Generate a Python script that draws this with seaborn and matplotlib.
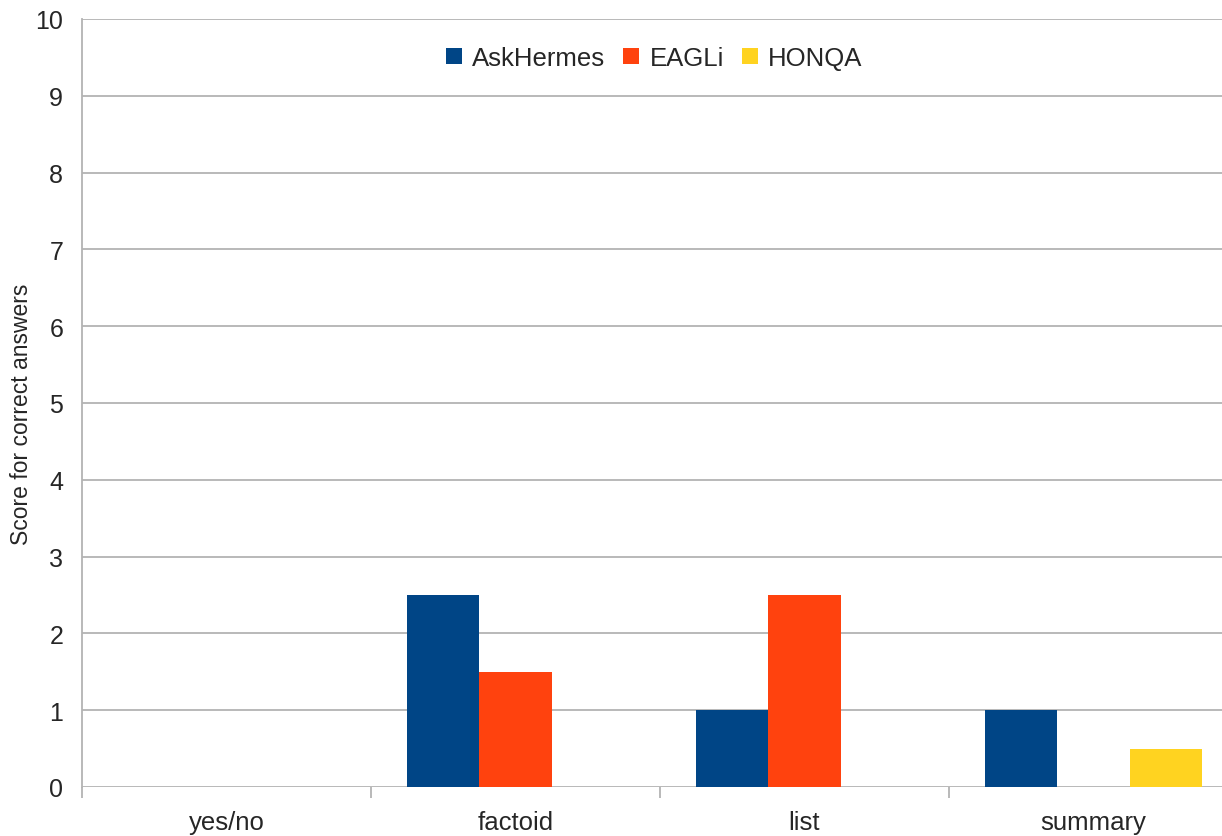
import numpy as np
import pandas as pd
import seaborn as sns
from matplotlib import pyplot as plt
from matplotlib.ticker import FixedLocator

categories = ['yes/no', 'factoid', 'list', 'summary']
systems = ['AskHermes', 'EAGLi', 'HONQA']
askhermes = [0, 2.5, 1, 1]
eagli = [0, 1.5, 2.5, 0]
honqa = [0, 0, 0, 0.5]
colors = ['#004586', '#ff420e', '#ffd320']
y_ticks = list(range(0, 11))


def create_dataframe():
    rows = []
    for system, values in zip(systems, [askhermes, eagli, honqa]):
        for cat, v in zip(categories, values):
            rows.append({'category': cat, 'system': system, 'score': v})
    return pd.DataFrame(rows)


sns.set_style('white')
plt.rcParams['font.family'] = ['Liberation Sans', 'DejaVu Sans']

df = create_dataframe()
fig = plt.figure(figsize=(12.22, 8.37), dpi=100)
ax = fig.add_axes([82 / 1222, 49 / 837, 1140 / 1222, 768 / 837])

sns.barplot(data=df, x='category', y='score', hue='system', order=categories,
            hue_order=systems, palette=colors, width=0.75, linewidth=0,
            saturation=1, ax=ax, zorder=3)

grid_color = '#b3b3b3'
ax.set_ylim(0, 10)
ax.set_xlim(-0.5, 3.445)
ax.set_yticks(y_ticks)
ax.yaxis.grid(True, color=grid_color, linewidth=1.3, zorder=0)
ax.tick_params(axis='y', length=7, width=1.3, color=grid_color, labelsize=18, pad=6.5)
ax.tick_params(axis='x', which='major', length=0, labelsize=18.5, pad=16.5)
ax.xaxis.set_minor_locator(FixedLocator([-0.5, 0.5, 1.5, 2.5]))
ax.tick_params(axis='x', which='minor', length=8, width=1.3, color=grid_color, bottom=True)
for side in ['top', 'right', 'bottom']:
    ax.spines[side].set_visible(False)
ax.spines['left'].set_color(grid_color)
ax.spines['left'].set_linewidth(1.3)
ax.set_xlabel('')
ax.set_ylabel('Score for correct answers', fontsize=16.5)
ax.yaxis.set_label_coords(-0.043, 0.486)

leg = ax.legend(loc='upper center', bbox_to_anchor=(0.502, 0.995), ncol=3, frameon=False,
                fontsize=18.5, handlelength=0.62, handleheight=0.62, handletextpad=0.4,
                columnspacing=0.7)

fig.savefig('out.png', dpi=100)
